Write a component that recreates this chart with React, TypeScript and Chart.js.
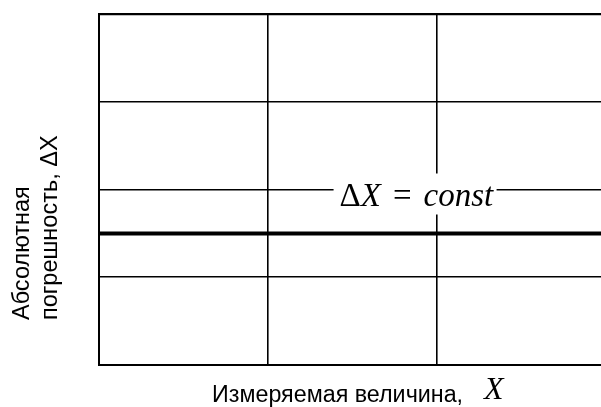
import React, { useEffect, useRef } from "react";
import { Chart, registerables } from "chart.js";

Chart.register(...registerables);

// Data
const xPoints = [0, 3];
const deltaX = [1.5, 1.5];
const xGridTicks = [0, 1, 2];
const yGridTicks = [0, 1, 2, 3, 4];
const xAxisTitle = "Измеряемая величина,";
const xAxisVar = "X";
const yAxisTitle = ["Абсолютная", "погрешность, ΔX"];
const annotationPos = [1.87, 2];
const annotationParts = [
  { text: "Δ", italic: false },
  { text: "X", italic: true },
  { text: "=", italic: false },
  { text: "const", italic: true },
];

const SANS = '"Liberation Sans", Arial, sans-serif';
const SERIF = '"Liberation Serif", "Times New Roman", serif';

const labelsPlugin = {
  id: "customLabels",
  afterDatasetsDraw(chart: any) {
    const { ctx, scales } = chart;
    const xs = scales.x;
    const ys = scales.y;
    // annotation "ΔX = const"
    const cx = xs.getPixelForValue(annotationPos[0]);
    const cy = ys.getPixelForValue(annotationPos[1]);
    ctx.save();
    ctx.fillStyle = "#fff";
    ctx.fillRect(cx - 81.5, cy - 16, 163, 41);
    ctx.fillStyle = "#000";
    ctx.textBaseline = "alphabetic";
    ctx.textAlign = "left";
    let px = cx - 75.5;
    const base = cy + 16.5;
    annotationParts.forEach((p, i) => {
      ctx.font = `${p.italic ? "italic " : ""}33px ${SERIF}`;
      px += i === 3 ? 12 : i === 2 ? 12 : 0;
      ctx.fillText(p.text, px, base);
      px += ctx.measureText(p.text).width;
    });
    ctx.restore();
  },
  afterDraw(chart: any) {
    const { ctx, chartArea } = chart;
    ctx.save();
    ctx.fillStyle = "#000";
    ctx.textBaseline = "alphabetic";
    ctx.textAlign = "left";
    // x axis title
    ctx.font = `23.3px ${SANS}`;
    const tx = chartArea.left + 113;
    const ty = chartArea.bottom + 37;
    ctx.fillText(xAxisTitle, tx, ty);
    ctx.font = `italic 32px ${SERIF}`;
    ctx.fillText(xAxisVar, 484, chartArea.bottom + 33.5);
    // y axis title
    ctx.translate(0, 320);
    ctx.rotate(-Math.PI / 2);
    ctx.font = `23.5px ${SANS}`;
    ctx.fillText(yAxisTitle[0], 0, 28.5);
    ctx.fillText(yAxisTitle[1], 0, 57);
    ctx.restore();
  },
};

export default function App() {
  const ref = useRef<HTMLCanvasElement>(null);
  useEffect(() => {
    document.body.style.margin = "0";
    const canvas = ref.current!;
    const chart = new Chart(canvas, {
      type: "line",
      data: {
        datasets: [
          {
            data: xPoints.map((x, i) => ({ x, y: deltaX[i] })),
            borderColor: "#000",
            borderWidth: 4,
            pointRadius: 0,
            fill: false,
          },
        ],
      },
      options: {
        responsive: false,
        animation: false,
        events: [],
        layout: { padding: { left: 99, top: 14, right: 0, bottom: 42 } },
        plugins: {
          legend: { display: false },
          tooltip: { enabled: false },
          title: { display: false },
        },
        scales: {
          x: {
            type: "linear",
            min: 0,
            max: 2.97,
            afterBuildTicks: (s: any) => {
              s.ticks = xGridTicks.map((v) => ({ value: v }));
            },
            ticks: { display: false },
            grid: { color: "#000", lineWidth: 1.6, drawTicks: false },
            border: { display: true, color: "#000", width: 2 },
          },
          y: {
            type: "linear",
            min: 0,
            max: 4,
            afterBuildTicks: (s: any) => {
              s.ticks = yGridTicks.map((v) => ({ value: v }));
            },
            ticks: { display: false },
            grid: {
              color: "#000",
              lineWidth: (c: any) => (c.tick && c.tick.value === 4 ? 2.2 : 1.6),
              drawTicks: false,
            },
            border: { display: true, color: "#000", width: 2 },
          },
        },
      },
      plugins: [labelsPlugin],
    });
    return () => chart.destroy();
  }, []);
  return (
    <div style={{ position: "fixed", left: 0, top: 0, width: 601, height: 407, background: "#fff" }}>
      <canvas ref={ref} width={601} height={407} style={{ display: "block" }} />
    </div>
  );
}
